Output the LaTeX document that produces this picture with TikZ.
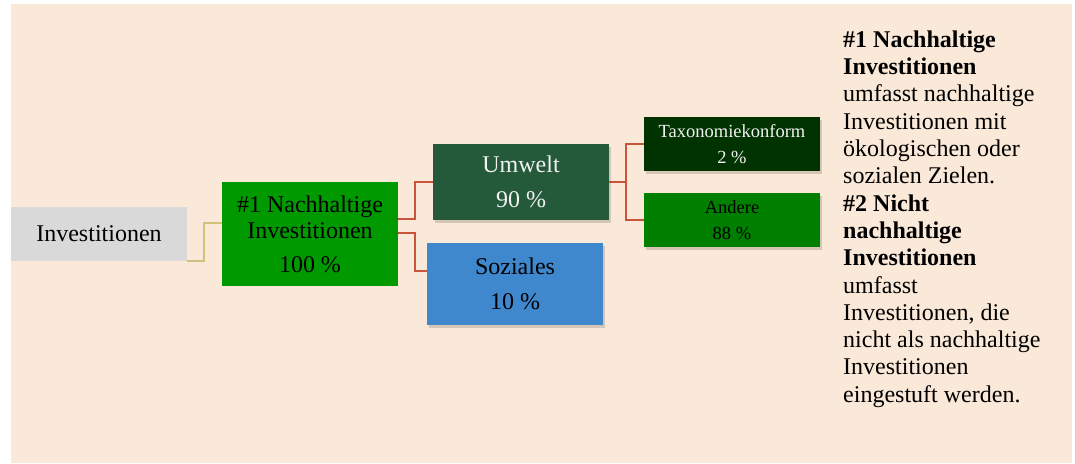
\documentclass[tikz,border=0pt]{standalone}
\usepackage{fontspec}
\setmainfont{Liberation Serif}
\usetikzlibrary{shadows}
\definecolor{bgpeach}{HTML}{FAE8D8}
\definecolor{invgray}{HTML}{D9D9D9}
\definecolor{nhgreen}{HTML}{009900}
\definecolor{umwgreen}{HTML}{245A3A}
\definecolor{sozblue}{HTML}{3F88CE}
\definecolor{taxgreen}{HTML}{013301}
\definecolor{andgreen}{HTML}{007F00}
\definecolor{redline}{HTML}{C8553A}
\definecolor{tanline}{HTML}{D0C27A}
\definecolor{whitish}{HTML}{F2F2F2}
\tikzset{
  boxnode/.style={inner sep=0pt, minimum width=176pt, align=center, font=\fontsize{24}{26}\selectfont},
  smallbox/.style={boxnode, minimum height=54pt, font=\fontsize{18.5}{26}\selectfont},
  shad/.style={drop shadow={shadow xshift=1.5pt, shadow yshift=-3pt, opacity=0.15, fill=black}},
  redconn/.style={draw=redline, line width=2pt},
  tanconn/.style={draw=tanline, line width=2pt},
}
\begin{document}
\begin{tikzpicture}[x=1pt,y=-1pt]
\useasboundingbox (0,0) rectangle (1075,463);
\fill[bgpeach] (11,4) rectangle (1072,463);

\node[boxnode, fill=invgray, minimum height=54pt] (inv) at (99,234) {Investitionen};
\node[boxnode, fill=nhgreen, minimum height=104pt] (nh) at (310,234) {\#1 Nachhaltige\\Investitionen\\[8pt]100 \%};
\node[boxnode, shad, fill=umwgreen, minimum height=76pt, text=whitish, font=\fontsize{24}{35}\selectfont] (umw) at (521,182) {Umwelt\\90 \%};
\node[boxnode, shad, fill=sozblue, minimum height=82pt, font=\fontsize{24}{35}\selectfont] (soz) at (515,284) {Soziales\\10 \%};
\node[smallbox, shad, fill=taxgreen, text=whitish] (tax) at (732,144) {Taxonomiekonform\\2 \%};
\node[smallbox, shad, fill=andgreen] (and) at (732,220) {Andere\\88 \%};

\draw[tanconn] (inv.south east) -- ++(17,0) |- (nh.west |- 0,223);
\draw[redconn] (nh.east |- 0,219) -- ++(17,0) |- (umw.west);
\draw[redconn] (nh.east |- 0,233) -- ++(17,0) |- (soz.west |- 0,271);
\draw[redconn] (umw.east) -- ++(17,0) |- (tax.west);
\draw[redconn] (umw.east) -- ++(17,0) |- (and.west);

\node[anchor=north west, inner sep=0pt, align=left, font=\fontsize{24}{27.3}\selectfont] (legend) at (843,30.5)
{\textbf{\#1 Nachhaltige}\\
\textbf{Investitionen}\\
umfasst nachhaltige\\
Investitionen mit\\
ökologischen oder\\
sozialen Zielen.\\
\textbf{\#2 Nicht}\\
\textbf{nachhaltige}\\
\textbf{Investitionen}\\
umfasst\\
Investitionen, die\\
nicht als nachhaltige\\
Investitionen\\
eingestuft werden.};
\end{tikzpicture}
\end{document}
